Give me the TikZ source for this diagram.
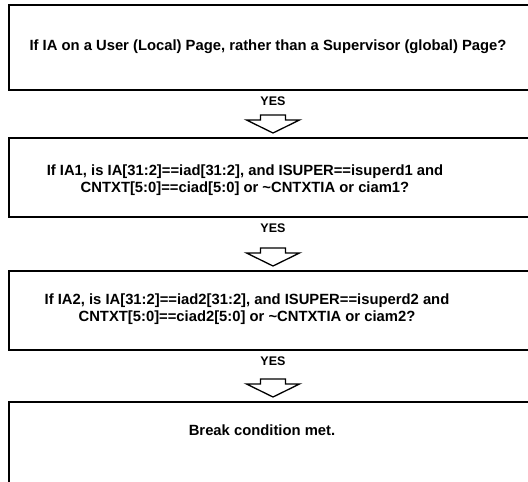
\documentclass[tikz,border=0pt]{standalone}
\usepackage{fontspec}
\setmainfont{Liberation Sans}
\usetikzlibrary{calc}
\begin{document}
\begin{tikzpicture}[x=1pt,y=-1pt,
  frame/.style={line width=1.5pt},
  txt/.style={font=\bfseries\fontsize{14.8}{17}\selectfont, align=center, inner sep=0pt},
  yes/.style={font=\bfseries\fontsize{12.5}{14}\selectfont, inner sep=0pt},
  hollow/.style={line width=1.3pt, fill=white, line join=miter}]
\useasboundingbox (0,0) rectangle (528,482);
% boxes (open at right)
\draw[frame] (528,5) -- (9,5) -- (9,90) -- (528,90);
\draw[frame] (528,138) -- (9,138) -- (9,217) -- (528,217);
\draw[frame] (528,271) -- (9,271) -- (9,350) -- (528,350);
\draw[frame] (528,402) -- (9,402) -- (9,482);
% texts
\node[txt] (q1) at (268,47) {If IA on a User (Local) Page, rather than a Supervisor (global) Page?};
\node[txt] (q2) at (245,180) {If IA1, is IA[31:2]==iad[31:2], and ISUPER==isuperd1 and\\CNTXT[5:0]==ciad[5:0] or \textasciitilde CNTXTIA or ciam1?};
\node[txt] (q3) at (247,309) {If IA2, is IA[31:2]==iad2[31:2], and ISUPER==isuperd2 and\\CNTXT[5:0]==ciad2[5:0] or \textasciitilde CNTXTIA or ciam2?};
\node[txt] (q4) at (262,430) {Break condition met.};
% YES labels
\node[yes] (y1) at (273,101) {YES};
\node[yes] (y2) at (273,228) {YES};
\node[yes] (y3) at (273,361) {YES};
% hollow arrows
\foreach \n/\ty in {a1/133, a2/266, a3/397}{
  \coordinate (\n) at (273,\ty);
  \draw[hollow] ($(\n)+(-12.5,-18)$) -- ($(\n)+(12.5,-18)$) -- ($(\n)+(12.5,-13)$)
     -- ($(\n)+(26.5,-13)$) -- (\n) -- ($(\n)+(-26.5,-13)$) -- ($(\n)+(-12.5,-13)$) -- cycle;
}
\end{tikzpicture}
\end{document}
